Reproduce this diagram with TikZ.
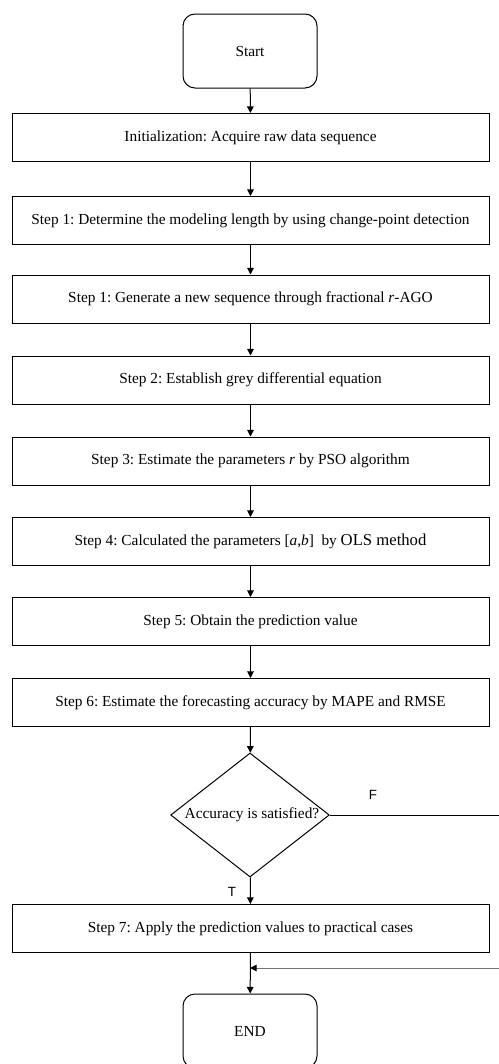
\documentclass[tikz,border=0pt]{standalone}
\usepackage{fontspec}
\setmainfont{Liberation Serif}
\newfontfamily\tfsans{Liberation Sans}
\usetikzlibrary{arrows.meta,shapes.geometric}
\frenchspacing

\begin{document}
\begin{tikzpicture}[
  x=0.75pt, y=-0.75pt,
  font=\fontsize{11.5}{13}\selectfont,
  line width=0.75pt,
  rnode/.style={draw,rectangle,rounded corners=9pt,minimum width=100.5pt,minimum height=55.5pt,inner sep=3pt},
  snode/.style={draw,rectangle,minimum width=357.75pt,minimum height=36pt,inner sep=3pt},
  dnode/.style={draw,diamond,minimum width=119pt,minimum height=93pt,inner sep=0pt},
  tfnode/.style={font=\tfsans\fontsize{10}{12}\selectfont,inner sep=1pt}
]
  \useasboundingbox (0,0) rectangle (499,1064);

  % terminals
  \node[rnode] (st) at (250,51) {Start};
  \node[rnode] (en) at (250,1031) {END};

  % steps
  \node[snode] (init) at (250.5,137.5) {Initialization: Acquire raw data sequence};
  \node[snode] (s1a) at (250.5,220.5) {Step 1: Determine the modeling length by using change-point detection};
  \node[snode] (s1b) at (250.5,299) {Step 1: Generate a new sequence through fractional \textit{r}-AGO};
  \node[snode] (s2) at (250.5,380) {Step 2: Establish grey differential equation};
  \node[snode] (s3) at (250.5,461) {Step 3: Estimate the parameters \textit{r} by PSO algorithm};
  \node[snode] (s4) at (250.5,541.5) {Step 4: Calculated the parameters [\textit{a},\textit{b}]\ \ by {\fontsize{12.5}{14}\selectfont OLS method}};
  \node[snode] (s5) at (250.5,621.5) {Step 5: Obtain the prediction value};
  \node[snode] (s6) at (250.5,702.5) {Step 6: Estimate the forecasting accuracy by MAPE and RMSE};
  \node[snode] (s7) at (250.5,928.5) {Step 7: Apply the prediction values to practical cases};

  % decision
  \node[dnode] (acc) at (250,815) {\makebox[0pt]{\kern3pt Accuracy is satisfied?}};
  \node[tfnode] (fl) at (373,795) {F};
  \node[tfnode] (tl) at (232,892) {T};

  % loose ends
  \coordinate (fr) at (499,815);
  \coordinate (bk) at (499,968);
  \coordinate (jn) at (250,968);

  % edges
  \draw[-{Triangle[length=5pt,width=5pt]}] (st) edge (init);
  \draw[-{Triangle[length=5pt,width=5pt]}] (init) edge (s1a);
  \draw[-{Triangle[length=5pt,width=5pt]}] (s1a) edge (s1b);
  \draw[-{Triangle[length=5pt,width=5pt]}] (s1b) edge (s2);
  \draw[-{Triangle[length=5pt,width=5pt]}] (s2) edge (s3);
  \draw[-{Triangle[length=5pt,width=5pt]}] (s3) edge (s4);
  \draw[-{Triangle[length=5pt,width=5pt]}] (s4) edge (s5);
  \draw[-{Triangle[length=5pt,width=5pt]}] (s5) edge (s6);
  \draw[-{Triangle[length=5pt,width=5pt]}] (s6) edge (acc);
  \draw[-{Triangle[length=5pt,width=5pt]}] (acc) edge (s7);
  \draw[-{Triangle[length=5pt,width=5pt]}] (s7) edge (en);
  \draw (acc) -- (fr);
  \draw[black!55,-{Triangle[length=5pt,width=5pt,color=black]}] (bk) -- (jn);
\end{tikzpicture}
\end{document}
